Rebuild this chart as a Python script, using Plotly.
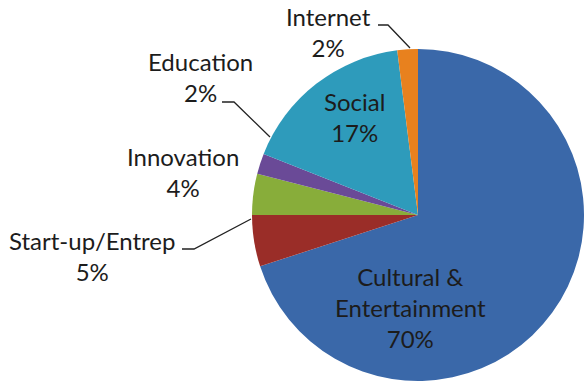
import plotly.graph_objects as go

# Project categories and their shares (%)
categories = ["Cultural &<br>Entertainment", "Start-up/Entrep", "Innovation",
              "Education", "Social", "Internet"]
shares = [70, 5, 4, 2, 17, 2]
colors = ["#3A68A9", "#9A2D28", "#88AD3A", "#6A4A97", "#2E9BBB", "#E8811E"]

W, H = 584, 385


def px(x):
    return x / W


def py(y):
    return 1 - y / H


fig = go.Figure(go.Pie(
    labels=categories,
    values=shares,
    sort=False,
    direction="clockwise",
    rotation=0,
    marker=dict(colors=colors, line=dict(width=0)),
    textinfo="none",
    hoverinfo="label+percent",
    domain=dict(x=[px(252), 1.0], y=[py(381), py(49)]),
    showlegend=False,
))

# Label anchor points (px) for each category
label_pos = {
    "Cultural &<br>Entertainment": (410, 307),
    "Start-up/Entrep": (92, 256),
    "Innovation": (183, 172),
    "Education": (200, 77),
    "Social": (354, 117),
    "Internet": (328, 32),
}

annotations = []
for cat, val in zip(categories, shares):
    x, y = label_pos[cat]
    annotations.append(dict(
        x=px(x), y=py(y), xref="paper", yref="paper",
        text=f"{cat}<br>{val}%", showarrow=False,
        xanchor="center", yanchor="middle",
        font=dict(family="Lato", size=24, color="#1C1C1C"),
    ))

# Leader lines from outside labels to their slices
leaders = [
    [(378, 25), (388, 25), (410, 48)],
    [(222, 102), (234, 102), (270, 137)],
    [(182, 249), (194, 249), (251, 219)],
]
shapes = []
for pts in leaders:
    path = "M " + " L ".join(f"{px(x)},{py(y)}" for x, y in pts)
    shapes.append(dict(type="path", path=path, xref="paper", yref="paper",
                       line=dict(color="#222222", width=1.3)))

fig.update_layout(
    width=W, height=H,
    margin=dict(l=0, r=0, t=0, b=0),
    paper_bgcolor="white",
    plot_bgcolor="white",
    annotations=annotations,
    shapes=shapes,
)

fig.write_html("out.html")
